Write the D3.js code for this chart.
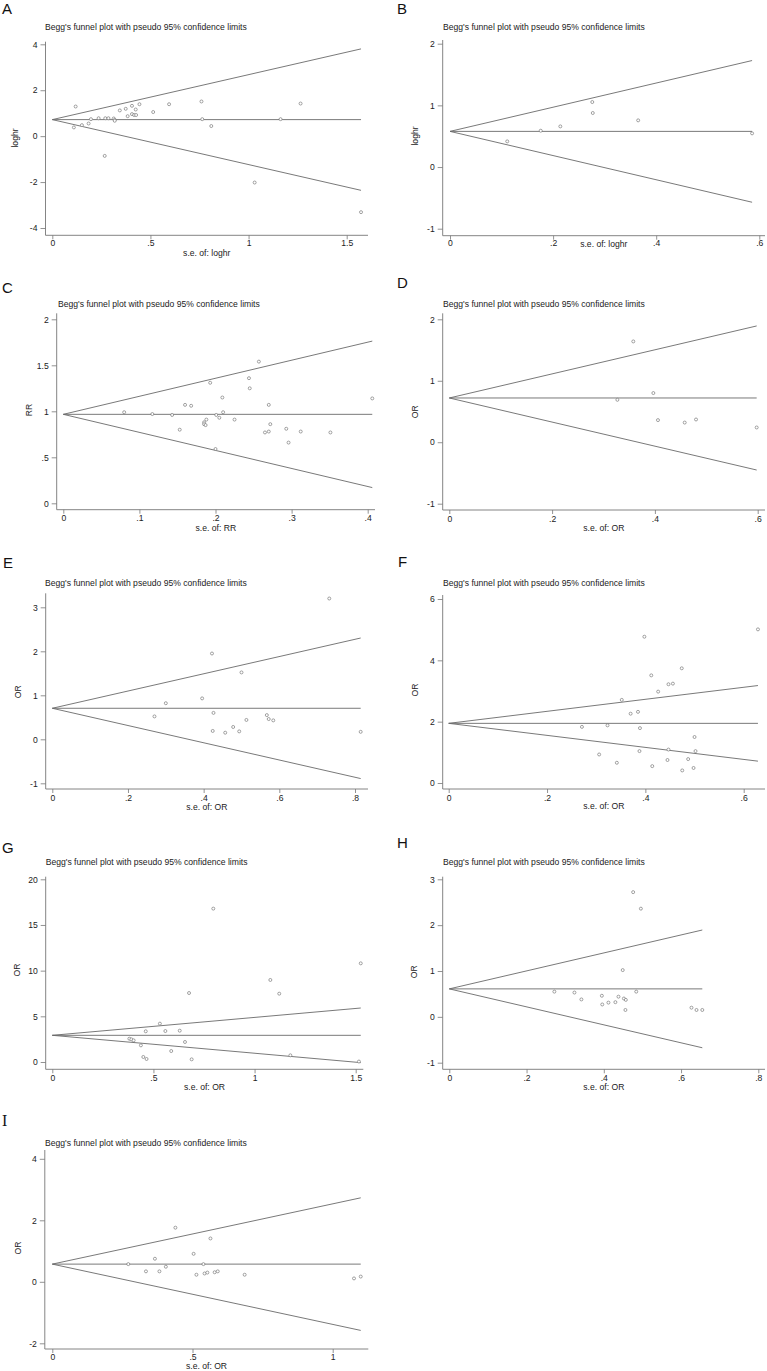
<!DOCTYPE html>
<html><head><meta charset="utf-8">
<script src="https://cdn.jsdelivr.net/npm/d3@7"></script>
<style>body{margin:0;background:#fff}</style>
</head><body>
<svg id="chart" width="767" height="1371"></svg>
<script>
// ---------- DATA ----------
const title = "Begg's funnel plot with pseudo 95% confidence limits";

// points: [s.e., effect]
const pointsA = [[0.119,1.29],[0.11,0.38],[0.151,0.48],[0.185,0.55],[0.197,0.74],[0.236,0.78],[0.27,0.78],[0.286,0.78],[0.267,-0.86],[0.313,0.77],[0.318,0.71],[0.318,0.67],[0.344,1.12],[0.374,1.19],[0.384,0.87],[0.406,1.32],[0.406,0.96],[0.417,0.92],[0.427,0.92],[0.425,1.16],[0.444,1.39],[0.514,1.05],[0.595,1.39],[0.76,1.51],[0.764,0.74],[0.81,0.44],[1.031,-2.02],[1.163,0.74],[1.265,1.42],[1.573,-3.31]];
const pointsB = [[0.111,0.416],[0.176,0.589],[0.214,0.659],[0.276,1.054],[0.277,0.876],[0.365,0.757],[0.586,0.546]];
const pointsC = [[0.080,0.99],[0.117,0.97],[0.143,0.96],[0.153,0.80],[0.160,1.07],[0.168,1.06],[0.185,0.88],[0.185,0.86],[0.188,0.91],[0.187,0.85],[0.193,1.31],[0.201,0.96],[0.200,0.59],[0.205,0.93],[0.209,1.15],[0.210,0.99],[0.225,0.91],[0.244,1.36],[0.245,1.25],[0.257,1.54],[0.265,0.77],[0.270,0.78],[0.270,1.07],[0.272,0.86],[0.293,0.81],[0.296,0.66],[0.312,0.78],[0.351,0.77],[0.406,1.14]];
const pointsD = [[0.327,0.69],[0.358,1.64],[0.397,0.80],[0.406,0.36],[0.458,0.32],[0.480,0.37],[0.598,0.24]];
const pointsE = [[0.270,0.52],[0.300,0.82],[0.396,0.93],[0.422,1.95],[0.426,0.60],[0.424,0.19],[0.457,0.15],[0.478,0.28],[0.494,0.18],[0.500,1.52],[0.513,0.44],[0.567,0.55],[0.572,0.46],[0.584,0.43],[0.732,3.20],[0.815,0.17]];
const pointsF = [[0.271,1.83],[0.306,0.93],[0.323,1.88],[0.342,0.66],[0.352,2.71],[0.370,2.26],[0.385,2.32],[0.388,1.04],[0.389,1.79],[0.398,4.77],[0.412,3.51],[0.414,0.55],[0.426,2.98],[0.445,0.75],[0.447,3.22],[0.447,1.09],[0.456,3.24],[0.474,3.74],[0.475,0.41],[0.487,0.78],[0.498,0.49],[0.500,1.50],[0.502,1.04],[0.629,5.01]];
const pointsG = [[0.381,2.55],[0.391,2.48],[0.402,2.37],[0.438,1.82],[0.450,0.55],[0.462,3.36],[0.466,0.33],[0.532,4.20],[0.559,3.39],[0.588,1.20],[0.630,3.43],[0.656,2.19],[0.676,7.55],[0.689,0.29],[0.796,16.79],[1.078,8.98],[1.122,7.48],[1.177,0.73],[1.516,0.05],[1.525,10.80]];
const pointsH = [[0.272,0.55],[0.324,0.53],[0.342,0.38],[0.395,0.46],[0.396,0.27],[0.412,0.31],[0.430,0.32],[0.438,0.44],[0.449,1.02],[0.452,0.40],[0.457,0.37],[0.456,0.15],[0.476,2.72],[0.484,0.55],[0.496,2.36],[0.627,0.20],[0.640,0.15],[0.655,0.15]];
const pointsI = [[0.271,0.575],[0.334,0.34],[0.366,0.75],[0.382,0.34],[0.405,0.49],[0.439,1.76],[0.504,0.91],[0.514,0.23],[0.539,0.575],[0.543,0.27],[0.553,0.30],[0.564,1.41],[0.579,0.31],[0.590,0.34],[0.686,0.23],[1.076,0.11],[1.100,0.17]];

// funnel: [center effect, s.e. at line end, upper limit at end, lower limit at end]
const funnelA = [0.72, 1.573, 3.80, -2.36];
const funnelB = [0.578, 0.586, 1.727, -0.571];
const funnelC = [0.967, 0.406, 1.763, 0.171];
const funnelD = [0.72, 0.598, 1.892, -0.452];
const funnelE = [0.705, 0.815, 2.302, -0.892];
const funnelF = [1.945, 0.629, 3.178, 0.712];
const funnelG = [2.92, 1.525, 5.91, -0.07];
const funnelH = [0.61, 0.655, 1.894, -0.674];
const funnelI = [0.575, 1.10, 2.731, -1.581];

// tick values
const xTicksA = [0,0.5,1,1.5], yTicksA = [-4,-2,0,2,4];
const xTicksB = [0,0.2,0.4,0.6], yTicksB = [-1,0,1,2];
const xTicksC = [0,0.1,0.2,0.3,0.4], yTicksC = [0,0.5,1,1.5,2];
const xTicksD = [0,0.2,0.4,0.6], yTicksD = [-1,0,1,2];
const xTicksE = [0,0.2,0.4,0.6,0.8], yTicksE = [-1,0,1,2,3];
const xTicksF = [0,0.2,0.4,0.6], yTicksF = [0,2,4,6];
const xTicksG = [0,0.5,1,1.5], yTicksG = [0,5,10,15,20];
const xTicksH = [0,0.2,0.4,0.6,0.8], yTicksH = [-1,0,1,2,3];
const xTicksI = [0,0.5,1], yTicksI = [-2,0,2,4];

const letters = ["A","B","C","D","E","F","G","H","I"];
const xLabels = ["s.e. of: loghr","s.e. of: loghr","s.e. of: RR","s.e. of: OR","s.e. of: OR","s.e. of: OR","s.e. of: OR","s.e. of: OR","s.e. of: OR"];
const yLabels = ["loghr","loghr","RR","OR","OR","OR","OR","OR","OR"];

// ---------- LAYOUT (pixels) ----------
const layouts = [
 {lx:2,  lb:14,  tx:45,  ty:26.7, ax:45.5, top:41.7, bot:235.3, right:368, xr:[52.3,346.7], yr:[228,44.3], xtl:243.3, xl:253.3, ylx:15, yly:138},
 {lx:397,lb:14,  tx:443, ty:27.3, ax:442.7,top:40,   bot:235.7, right:765, xr:[450,759.3], yr:[228.7,43.7], xtl:242.7, xl:244, ylx:415, yly:136},
 {lx:2,  lb:293, tx:58,  ty:304,  ax:56.7, top:313.3,bot:509.7, right:375, xr:[63.3,367.7], yr:[503.3,319.3], xtl:518.3, xl:528.3, ylx:29.3, yly:410},
 {lx:397,lb:288, tx:443, ty:304,  ax:442.7,top:313.3,bot:510,   right:765, xr:[449.3,757.7], yr:[503.7,319.3], xtl:519, xl:527.7, ylx:415, yly:411.7},
 {lx:3,  lb:568, tx:45,  ty:582.7,ax:45.7, top:593.3,bot:789,   right:368, xr:[52.3,355], yr:[783.3,607.3], xtl:798.3, xl:806.7, ylx:18.3, yly:691.7},
 {lx:398,lb:567, tx:443, ty:583.3,ax:442.7,top:595,  bot:789,   right:765, xr:[448.7,743.7], yr:[783,599], xtl:798.3, xl:806, ylx:415, yly:690},
 {lx:2,  lb:853, tx:45.7,ty:862.3,ax:45.7, top:876.7,bot:1069.3,right:363.3, xr:[52.3,355.7], yr:[1062,879.3], xtl:1078.3, xl:1086.7, ylx:16.7, yly:970},
 {lx:397,lb:848, tx:443, ty:862.3,ax:442.7,top:876.7,bot:1069.3,right:765, xr:[449.3,758.3], yr:[1062.7,879.3], xtl:1078.3, xl:1086.7, ylx:414.3, yly:971.7},
 {lx:2,  lb:1126,tx:45,  ty:1143.3,ax:44.8,top:1150, bot:1349,  right:368.3, xr:[52.3,332.7], yr:[1343.3,1158.8], xtl:1356.5, xl:1366, ylx:18.3, yly:1248}
];

const panels = [
 {points:pointsA, funnel:funnelA, xt:xTicksA, yt:yTicksA},
 {points:pointsB, funnel:funnelB, xt:xTicksB, yt:yTicksB},
 {points:pointsC, funnel:funnelC, xt:xTicksC, yt:yTicksC},
 {points:pointsD, funnel:funnelD, xt:xTicksD, yt:yTicksD},
 {points:pointsE, funnel:funnelE, xt:xTicksE, yt:yTicksE},
 {points:pointsF, funnel:funnelF, xt:xTicksF, yt:yTicksF},
 {points:pointsG, funnel:funnelG, xt:xTicksG, yt:yTicksG},
 {points:pointsH, funnel:funnelH, xt:xTicksH, yt:yTicksH},
 {points:pointsI, funnel:funnelI, xt:xTicksI, yt:yTicksI}
];

// ---------- DRAW ----------
const svg = d3.select("#chart");
svg.append("rect").attr("width",767).attr("height",1371).attr("fill","#fff");
const FONT = "'Liberation Sans', Arial, sans-serif";
const FS = 8.6;
const TXT = "#222", AXC = "#777", LNC = "#6a6a6a";
const fmt = d => d === 0 ? "0" : String(+d.toFixed(3)).replace(/^(-?)0\./, "$1.");

panels.forEach((p, i) => {
  const L = layouts[i];
  const g = svg.append("g");
  const x = d3.scaleLinear().domain([p.xt[0], p.xt[p.xt.length-1]]).range(L.xr);
  const y = d3.scaleLinear().domain([p.yt[0], p.yt[p.yt.length-1]]).range(L.yr);

  // panel letter
  const serif = letters[i] === "I";
  g.append("text").attr("x", L.lx).attr("y", L.lb).text(letters[i])
    .attr("font-family", serif ? "'Liberation Serif', serif" : FONT)
    .attr("font-size", serif ? 16 : 15).attr("fill", "#111");

  // title
  g.append("text").attr("x", L.tx).attr("y", L.ty).attr("dy", "0.35em").text(title)
    .attr("font-family", FONT).attr("font-size", FS).attr("fill", TXT);

  // axis lines
  g.append("line").attr("x1", L.ax).attr("x2", L.ax).attr("y1", L.top).attr("y2", L.bot)
    .attr("stroke", AXC).attr("stroke-width", 0.9);
  g.append("line").attr("x1", L.ax).attr("x2", L.right).attr("y1", L.bot).attr("y2", L.bot)
    .attr("stroke", AXC).attr("stroke-width", 0.9);

  // y axis
  const ya = g.append("g").attr("transform", `translate(${L.ax},0)`)
    .call(d3.axisLeft(y).tickValues(p.yt).tickSize(5).tickPadding(3).tickFormat(fmt));
  ya.select(".domain").remove();
  ya.selectAll("line").attr("stroke", AXC).attr("stroke-width", 0.8);
  ya.selectAll("text").attr("font-family", FONT).attr("font-size", FS).attr("fill", TXT);

  // x axis
  const xa = g.append("g").attr("transform", `translate(0,${L.bot})`)
    .call(d3.axisBottom(x).tickValues(p.xt).tickSize(4).tickFormat(fmt));
  xa.select(".domain").remove();
  xa.selectAll("line").attr("stroke", AXC).attr("stroke-width", 0.8);
  xa.selectAll("text").attr("y", L.xtl - L.bot).attr("dy", "0.35em")
    .attr("font-family", FONT).attr("font-size", FS).attr("fill", TXT);

  // axis titles
  g.append("text").attr("x", (L.ax + L.right) / 2).attr("y", L.xl).attr("dy", "0.35em")
    .attr("text-anchor", "middle").text(xLabels[i])
    .attr("font-family", FONT).attr("font-size", FS).attr("fill", TXT);
  g.append("text").attr("transform", `translate(${L.ylx},${L.yly}) rotate(-90)`)
    .attr("dy", "0.35em").attr("text-anchor", "middle").text(yLabels[i])
    .attr("font-family", FONT).attr("font-size", FS).attr("fill", TXT);

  // funnel lines
  const [c, seMax, up, lo] = p.funnel;
  const line = d3.line().x(d => x(d[0])).y(d => y(d[1]));
  [[[0, c], [seMax, up]], [[0, c], [seMax, c]], [[0, c], [seMax, lo]]].forEach(seg => {
    g.append("path").attr("d", line(seg)).attr("fill", "none")
      .attr("stroke", LNC).attr("stroke-width", 0.9);
  });

  // study points
  g.selectAll("circle.pt").data(p.points).join("circle").attr("class", "pt")
    .attr("cx", d => x(d[0])).attr("cy", d => y(d[1])).attr("r", 1.5)
    .attr("fill", "#fff").attr("stroke", "#666").attr("stroke-width", 0.6);
});
</script>
</body></html>
